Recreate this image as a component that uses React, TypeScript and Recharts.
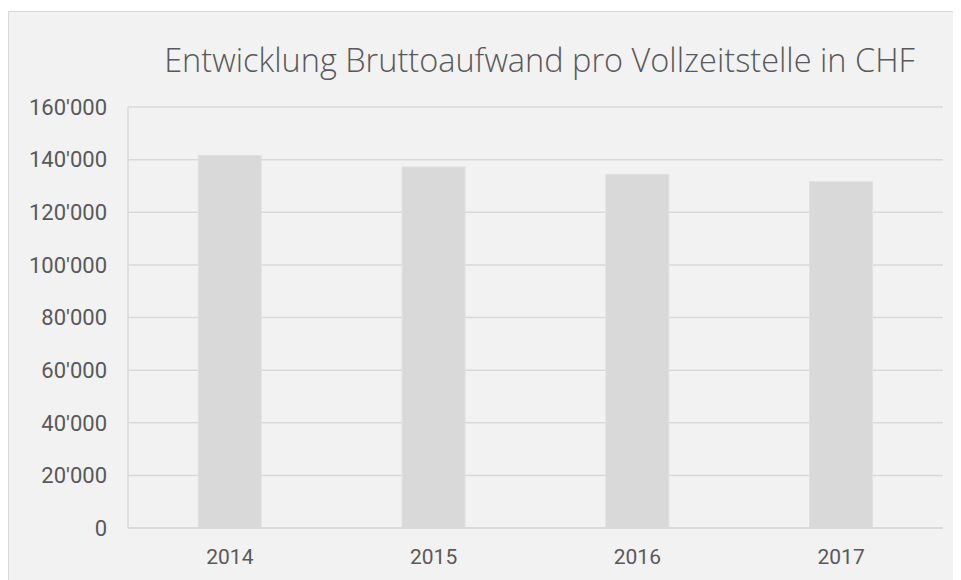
import React from "react";
import { BarChart, Bar, XAxis, YAxis, CartesianGrid } from "recharts";

const years = ["2014", "2015", "2016", "2017"];
const values = [141600, 137200, 134400, 131600];
const yTicks = [0, 20000, 40000, 60000, 80000, 100000, 120000, 140000, 160000];
const title = "Entwicklung Bruttoaufwand pro Vollzeitstelle in CHF";

const data = years.map((y, i) => ({ year: y, value: values[i] }));

const fmt = (v: number) => {
  const s = String(Math.round(v));
  return s.replace(/\B(?=(\d{3})+(?!\d))/g, "'");
};

const TEXT = "#595959";
const GRID = "#d9d9d9";

export default function App() {
  return (
    <div>
      <style>{"html,body{overflow:hidden}"}</style>
      <div
        style={{
          position: "relative",
          marginTop: 3,
          width: 970,
          height: 580,
          background: "#f2f2f2",
          borderLeft: "1px solid #d9d9d9",
          borderTop: "1px solid #d9d9d9",
        }}
      >
        <div
          style={{
            position: "absolute",
            left: 0,
            width: 1061,
            top: 28,
            textAlign: "center",
            fontFamily: "'Open Sans', sans-serif",
            fontWeight: 300,
            fontSize: 32.5,
            color: TEXT,
            whiteSpace: "nowrap",
            lineHeight: "40px",
          }}
        >
          {title}
        </div>
        <BarChart
          width={952}
          height={568}
          data={data}
          margin={{ top: 95, right: 18, bottom: 0, left: 0 }}
          barCategoryGap="34.5%"
          style={{ position: "absolute", left: 0, top: 0 }}
        >
          <CartesianGrid vertical={false} stroke={GRID} strokeWidth={1.5} />
          <XAxis
            dataKey="year"
            axisLine={{ stroke: GRID, strokeWidth: 1.5 }}
            tickLine={false}
            tickSize={0}
            tickMargin={21}
            height={52}
            tick={{ fill: TEXT, fontSize: 21, fontFamily: "Roboto, sans-serif" }}
          />
          <YAxis
            width={119}
            domain={[0, 160000]}
            ticks={yTicks}
            tickFormatter={fmt}
            axisLine={{ stroke: GRID, strokeWidth: 1.5 }}
            tickLine={false}
            tickSize={0}
            tickMargin={21}
            interval={0}
            tick={{ fill: TEXT, fontSize: 22, fontFamily: "Roboto, sans-serif" }}
          />
          <Bar dataKey="value" fill="#d9d9d9" stroke="#e0e0e0" strokeWidth={1} isAnimationActive={false} />
        </BarChart>
      </div>
    </div>
  );
}
